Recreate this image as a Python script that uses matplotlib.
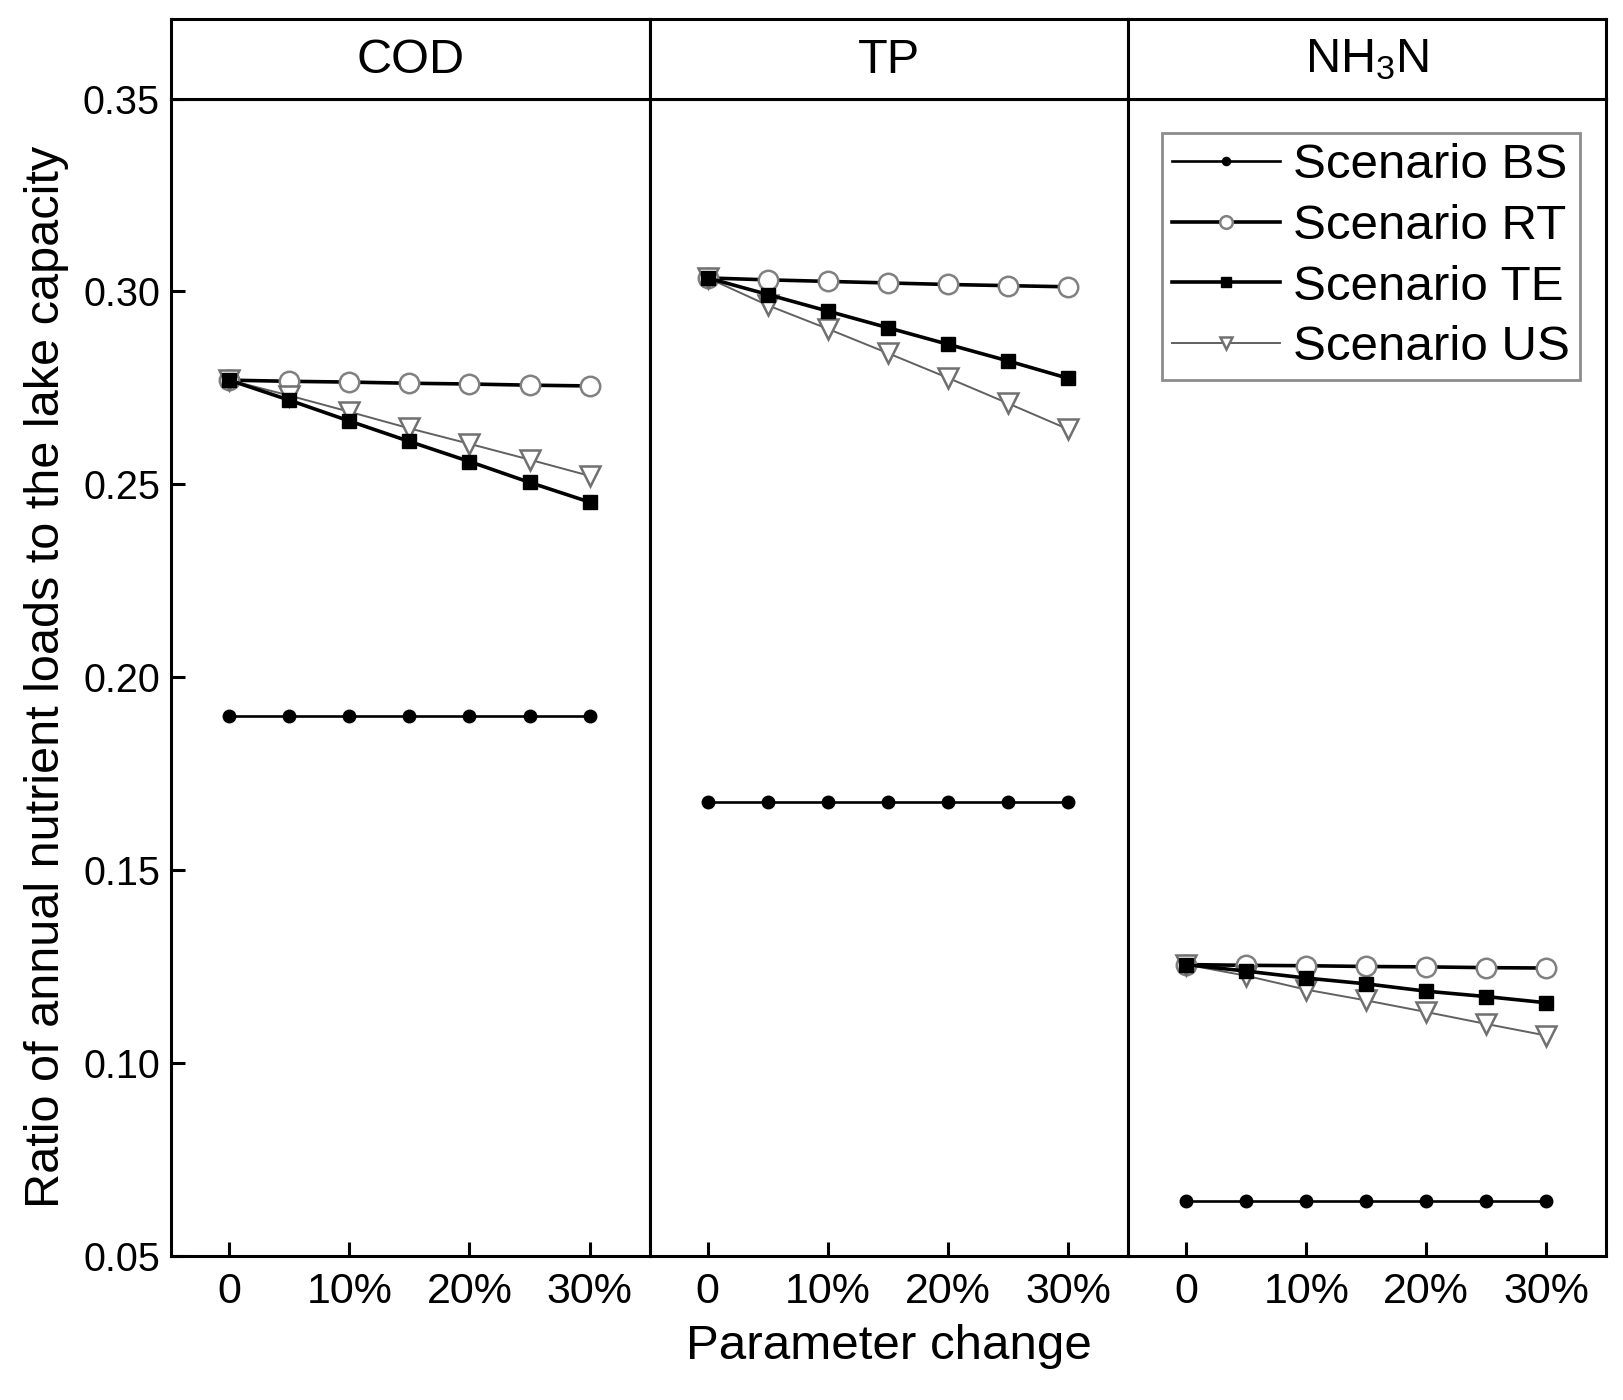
import matplotlib
matplotlib.use('Agg')
import matplotlib.pyplot as plt

plt.rcParams['font.family'] = ['Liberation Sans', 'DejaVu Sans']
plt.rcParams['mathtext.default'] = 'regular'

# parameter change (%)
change = [0, 5, 10, 15, 20, 25, 30]
panels = ['COD', 'TP', r'NH$_3$N']
tick_pos = [0, 10, 20, 30]
tick_lab = ['0', '10%', '20%', '30%']

# ratio of annual nutrient loads to the lake capacity, per panel
cod_bs = [0.190, 0.190, 0.190, 0.190, 0.190, 0.190, 0.190]
cod_rt = [0.277, 0.2767, 0.2765, 0.2762, 0.2760, 0.2757, 0.2755]
cod_te = [0.277, 0.2718, 0.2664, 0.2611, 0.2559, 0.2505, 0.2454]
cod_us = [0.277, 0.2730, 0.2688, 0.2645, 0.2605, 0.2564, 0.2522]

tp_bs = [0.1677, 0.1677, 0.1677, 0.1677, 0.1677, 0.1677, 0.1677]
tp_rt = [0.3035, 0.3030, 0.3026, 0.3022, 0.3018, 0.3015, 0.3012]
tp_te = [0.3035, 0.2992, 0.2949, 0.2906, 0.2863, 0.2820, 0.2775]
tp_us = [0.3035, 0.2964, 0.2903, 0.2840, 0.2776, 0.2710, 0.2643]

nh_bs = [0.0643, 0.0643, 0.0643, 0.0643, 0.0643, 0.0643, 0.0643]
nh_rt = [0.1255, 0.1253, 0.1252, 0.1250, 0.1249, 0.1247, 0.1246]
nh_te = [0.1255, 0.1238, 0.1220, 0.1205, 0.1186, 0.1172, 0.1156]
nh_us = [0.1255, 0.1226, 0.1190, 0.1162, 0.1132, 0.1101, 0.1071]

data = [
    (cod_bs, cod_rt, cod_te, cod_us),
    (tp_bs, tp_rt, tp_te, tp_us),
    (nh_bs, nh_rt, nh_te, nh_us),
]

fig = plt.figure(figsize=(16.24, 14.0), dpi=100)
left, right = 0.1054, 0.9891
bottom, top, strip_top = 0.1030, 0.9296, 0.9867
w = (right - left) / 3

for i, (bs, rt, te, us) in enumerate(data):
    ax = fig.add_axes([left + i * w, bottom, w, top - bottom])
    strip = fig.add_axes([left + i * w, top, w, strip_top - top])
    strip.set_xticks([])
    strip.set_yticks([])
    for s in strip.spines.values():
        s.set_linewidth(2.2)
    strip.text(0.5, 0.48, panels[i], ha='center', va='center', fontsize=35,
               transform=strip.transAxes)

    ax.plot(change, bs, '-o', color='black', lw=1.9, ms=9,
            label='Scenario BS', zorder=3)
    ax.plot(change, rt, '-o', color='black', lw=2.6, ms=14, mfc='white',
            mec='#808080', mew=1.8, label='Scenario RT', zorder=4)
    ax.plot(change, us, '-v', color='#606060', lw=1.4, ms=14, mfc='white',
            mec='#707070', mew=1.8, label='Scenario US', zorder=5)
    ax.plot(change, te, '-s', color='black', lw=2.6, ms=10,
            label='Scenario TE', zorder=6)

    ax.set_xlim(-4.85, 35)
    ax.set_ylim(0.05, 0.35)
    ax.set_xticks(tick_pos)
    ax.set_xticklabels(tick_lab)
    ax.tick_params(axis='x', direction='in', length=10, width=2.2,
                   labelsize=31, pad=12)
    if i == 0:
        ax.set_yticks([0.05, 0.10, 0.15, 0.20, 0.25, 0.30, 0.35])
        ax.set_yticklabels(['0.05', '0.10', '0.15', '0.20', '0.25',
                            '0.30', '0.35'])
        ax.tick_params(axis='y', direction='in', length=10, width=2.2,
                       labelsize=28.5, pad=8)
        ax.set_ylabel('Ratio of annual nutrient loads to the lake capacity',
                      fontsize=35, labelpad=10)
    else:
        ax.set_yticks([])
    for s in ax.spines.values():
        s.set_linewidth(2.2)

    if i == 1:
        ax.set_xlabel('Parameter change', fontsize=35.5, labelpad=8)

    if i == 2:
        h, l = ax.get_legend_handles_labels()
        order = [0, 1, 3, 2]
        leg = ax.legend([h[k] for k in order], [l[k] for k in order],
                        loc='upper right', bbox_to_anchor=(0.944, 0.970),
                        borderaxespad=0, fontsize=35.5, fancybox=False,
                        edgecolor='#707070', markerscale=0.65,
                        handlelength=2.2, handletextpad=0.25,
                        labelspacing=0.32, borderpad=0.2)
        leg.get_frame().set_linewidth(2)

fig.savefig('out.png', dpi=100, facecolor='white')
